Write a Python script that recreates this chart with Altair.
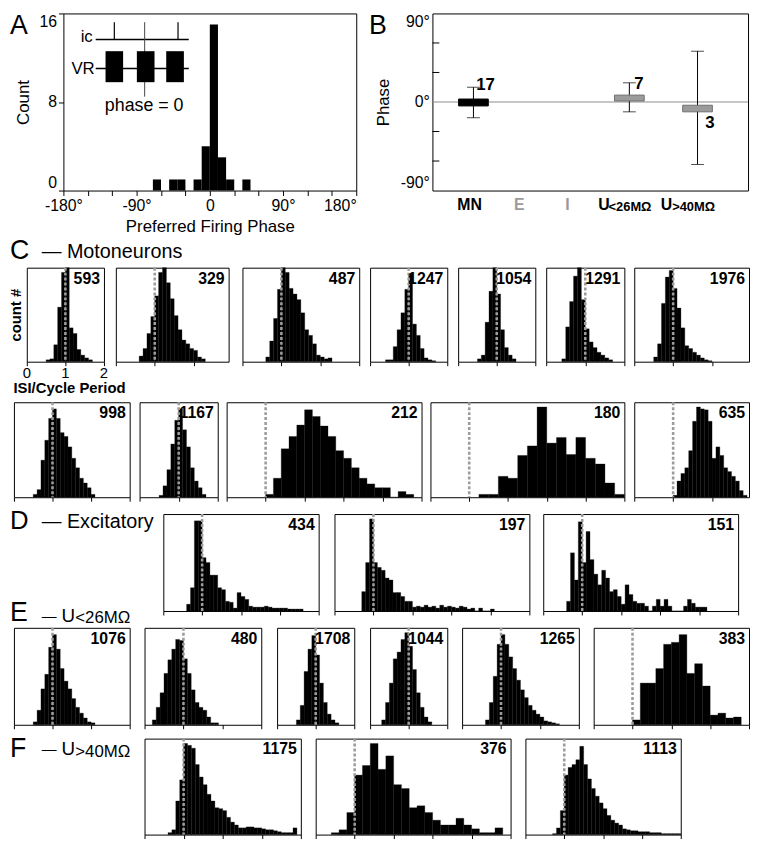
import altair as alt
import pandas as pd

FONT = "Liberation Sans"
FX, FY = 0.988, 0.978      # slight compression so the figure fits the page
PXU = 39.8                 # reference pixels per ISI/cycle unit

def X(v):
    return round((v - 3) * FX)

def Y(v):
    return round((v - 4) * FY)

ONE = pd.DataFrame({"k": [0]})

# ---------------- Panel A : preferred firing phase histogram ----------------
a_bin_start = [-70, -50, -40, -20, -10, 0, 10, 20, 40]
a_counts = [1, 1, 1, 1, 4, 15, 3, 1, 1]
A_BIN = 10

# inset schematic (in panel-A data units: degrees, counts)
ins_line_x = [-140.3, -140.3]
ins_line_x2 = [-25.9, -25.9]
ins_line_y = [13.64, 11.02]
ins_tick_x = [-117.4, -39.1]
ins_tick_y = [15.21, 15.21]
ins_tick_y2 = [13.64, 13.64]
ins_zero_x = [-80.1]
ins_zero_y = [15.21]
ins_zero_y2 = [8.48]
ins_box_x = [-128.2, -89.7, -53.6]
ins_box_x2 = [-106.6, -68.0, -31.9]
ins_box_y = [12.59, 12.59, 12.59]
ins_box_y2 = [9.79, 9.79, 9.79]
ins_lab = ["ic", "VR"]
ins_lab_x = [-143.9, -141.5]
ins_lab_y = [13.46, 10.5]
ins_phase_lab = ["phase = 0"]
ins_phase_x = [-80.7]
ins_phase_y = [7.17]

# ---------------- Panel B : mean phase per class ----------------
b_x = [0.118, 0.628, 0.851]
b_box_lo = [-4, 1, -10]
b_box_hi = [3, 7, -3.3]
b_err_lo = [-16, -10, -63.5]
b_err_hi = [15, 19.5, 51.6]
b_fill = ["black", "#9b9b9b", "#9b9b9b"]
b_stroke = ["black", "#6e6e6e", "#6e6e6e"]
b_n = ["17", "7", "3"]
b_n_x = [0.127, 0.644, 0.876]
b_n_y = [17.4, 17.9, -20.9]
b_minor = [-60, -30, 30, 60]
b_cat = ["MN", "E", "I", "U", "U"]
b_cat_x = [0.065, 0.251, 0.418, 0.526, 0.731]
b_cat_color = ["black", "#9a9a9a", "#9a9a9a", "black", "black"]
b_sub = ["<26MΩ", ">40MΩ"]
b_sub_x = [0.560, 0.768]

# ISI axis tick labels (first motoneuron panel only)
isi_tick_vals = [0, 1, 2]
isi_tick_text = ["0", "1", "2"]

# ---------------- ISI histograms (heights in % of panel height) ----------------
mn593 = dict(n="593", start=0.5, bw=0.1, h=[2, 3, 18, 58, 95, 100, 36, 30, 13, 7, 4, 2])
mn329 = dict(n="329", start=0.6, bw=0.1, h=[6, 14, 30, 48, 70, 95, 100, 84, 67, 49, 34, 23, 19, 14, 12, 5, 3])
mn487 = dict(n="487", start=0.6, bw=0.1, h=[5, 22, 46, 77, 100, 95, 78, 72, 66, 52, 34, 28, 19, 7, 5, 3, 4])
mn1247 = dict(n="1247", start=0.4, bw=0.1, h=[2, 2, 16, 34, 52, 77, 93, 40, 28, 14, 4, 2, 1])
mn1054 = dict(n="1054", start=0.5, bw=0.1, h=[3, 7, 42, 75, 100, 72, 34, 15, 7, 3])
mn1291 = dict(n="1291", start=0.4, bw=0.1, h=[3, 37, 64, 91, 100, 66, 35, 21, 15, 10, 7, 4, 2])
mn1976 = dict(n="1976", start=0.5, bw=0.1, h=[5, 19, 62, 90, 97, 78, 57, 36, 17, 14, 10, 7, 4, 2, 1])

mn998 = dict(n="998", start=0.5, bw=0.1, h=[3, 8, 39, 60, 83, 93, 83, 68, 64, 53, 41, 31, 20, 15, 10, 3])
mn1167 = dict(n="1167", start=0.5, bw=0.1, h=[2, 12, 29, 56, 81, 93, 71, 53, 31, 17, 10, 3])
mn212 = dict(n="212", start=1.0, bw=0.2, h=[3, 20, 51, 64, 76, 92, 85, 75, 64, 49, 41, 31, 20, 14, 10, 10, 0, 6, 3])
mn180 = dict(n="180", start=1.25, bw=0.25, h=[3, 3, 22, 20, 44, 54, 95, 57, 63, 45, 63, 41, 35, 15, 3])
mn635 = dict(n="635", start=1.0, bw=0.1, h=[2, 17, 25, 31, 49, 80, 95, 93, 92, 80, 41, 53, 44, 31, 27, 22, 17, 7, 2])

ex434 = dict(n="434", start=0.6, bw=0.1, h=[7, 24, 93, 93, 55, 50, 37, 37, 24, 22, 10, 9, 3, 19, 15, 12, 5, 4, 4, 4, 5, 4, 3, 3, 3, 3, 2, 2, 2, 2])
ex197 = dict(n="197", start=0.7, bw=0.1, h=[20, 50, 95, 50, 45, 42, 34, 32, 19, 19, 15, 10, 10, 4, 5, 4, 6, 4, 5, 3, 6, 4, 5, 4, 3, 5, 4, 2, 3, 0, 3, 0, 0, 2])
ex151 = dict(n="151", start=0.6, bw=0.1, h=[10, 60, 32, 92, 50, 82, 53, 38, 27, 42, 34, 20, 22, 15, 7, 27, 17, 10, 8, 8, 5, 0, 5, 12, 5, 12, 5, 0, 0, 0, 5, 12, 8, 4, 4, 4])

u1076 = dict(n="1076", start=0.5, bw=0.1, h=[3, 15, 37, 52, 80, 93, 78, 58, 45, 37, 27, 18, 12, 7, 3, 2])
u480 = dict(n="480", start=0.2, bw=0.1, h=[5, 18, 33, 53, 67, 78, 88, 87, 68, 53, 36, 23, 18, 15, 8, 2, 2])
u1708 = dict(n="1708", start=0.5, bw=0.1, h=[5, 20, 55, 78, 92, 72, 43, 23, 11, 5, 2])
u1044 = dict(n="1044", start=0.3, bw=0.1, h=[5, 23, 43, 68, 75, 88, 95, 81, 57, 33, 18, 8, 3])
u1265 = dict(n="1265", start=0.6, bw=0.1, h=[5, 23, 50, 83, 93, 83, 70, 58, 46, 36, 28, 20, 15, 11, 8, 4, 3, 2, 1])
u383 = dict(n="383", start=1.0, bw=0.2, h=[5, 43, 43, 58, 83, 85, 93, 53, 63, 40, 10, 12, 7, 8])

v1175 = dict(n="1175", start=0.6, bw=0.1, h=[2, 5, 35, 57, 95, 93, 90, 73, 60, 52, 42, 35, 28, 27, 25, 18, 13, 10, 7, 7, 8, 8, 7, 7, 6, 5, 5, 4, 3, 2, 2, 2, 7])
v376 = dict(n="376", start=0.4, bw=0.2, h=[2, 5, 23, 62, 72, 95, 68, 82, 52, 48, 28, 30, 23, 15, 10, 10, 17, 10, 6, 2, 2, 7])
v1113 = dict(n="1113", start=0.7, bw=0.1, h=[1, 7, 25, 62, 70, 73, 78, 92, 73, 58, 48, 40, 33, 27, 20, 15, 12, 10, 6, 5, 4, 4, 3, 3, 3, 2, 2, 2, 1, 1, 1, 1, 1])

# ---------------- layout (reference pixel geometry) ----------------
row_c1 = [(mn593, 17, 2), (mn329, 108, 2.9), (mn487, 238, 3), (mn1247, 368, 2),
          (mn1054, 458, 2), (mn1291, 549, 2), (mn1976, 639, 2.95)]
row_c2 = [(mn998, 3, 3), (mn1167, 133, 2), (mn212, 222, 5), (mn180, 430, 5), (mn635, 639, 2.95)]
row_d = [(ex434, 157, 4), (ex197, 332, 5), (ex151, 546, 5)]
row_e = [(u1076, 3, 3), (u480, 138, 3), (u1708, 273, 2), (u1044, 368, 2), (u1265, 463, 3), (u383, 597, 4)]
row_f = [(v1175, 138, 4), (v376, 313, 5), (v1113, 527, 4)]

FRAME = alt.ViewBackground(stroke="black", strokeWidth=1)


def txt(x, y, s, size, weight="normal", color="black", align="left", baseline="alphabetic"):
    return alt.Chart(ONE).mark_text(text=s, fontSize=size, fontWeight=weight, color=color,
                                    align=align, baseline=baseline).encode(
        x=alt.value(x), y=alt.value(y))


def text_top(base, size):      # vega text bounds (alphabetic baseline)
    return base - round(0.8 * size)


def text_bottom(base, size):
    return base - round(0.8 * size) + size


def blank(w, h, extra=()):
    base = alt.Chart(ONE).mark_rect(opacity=0).encode(
        x=alt.value(0), x2=alt.value(1), y=alt.value(0), y2=alt.value(1))
    return alt.layer(base, *extra).properties(width=w, height=h)


def hist_cell(spec, xmax, w, h, first=False):
    hs = spec["h"]
    xs = [round(spec["start"] + i * spec["bw"], 4) for i in range(len(hs))]
    df = pd.DataFrame({"x": xs, "x2": [round(v + spec["bw"], 4) for v in xs],
                       "y0": [0] * len(hs), "h": hs})
    xsc = alt.Scale(domain=[0, xmax], nice=False, zero=False)
    ysc = alt.Scale(domain=[0, 100], nice=False, zero=False)
    akw = dict(values=list(range(0, int(xmax) + 1)), tickSize=4, tickColor="black", tickWidth=1,
               domain=False, grid=False, labels=False)
    if first:
        akw.update(title="ISI/Cycle Period", titleFontSize=15, titleFontWeight="bold",
                   titleAlign="left", titleAnchor="start", titleBaseline="top",
                   titleX=X(3) - X(17), titleY=Y(381) - Y(362))
        yax = alt.Axis(ticks=False, labels=False, domain=False, grid=False, title="count #",
                       titleFontSize=15, titleFontWeight="bold", titlePadding=3)
    else:
        akw.update(title=None)
        yax = None
    xax = alt.Axis(**akw)
    bars = alt.Chart(df).mark_rect(color="black", stroke="black", strokeWidth=0.3).encode(
        x=alt.X("x:Q", scale=xsc, axis=xax),
        x2="x2:Q",
        y=alt.Y("y0:Q", scale=ysc, axis=yax),
        y2="h:Q")
    dash = alt.Chart(pd.DataFrame({"x": [1]})).mark_rule(
        color="#9c9c9c", strokeDash=[3, 2], strokeWidth=2.6).encode(
        x=alt.X("x:Q", axis=xax))
    lab = txt(w - 4, 3, spec["n"], 16, "bold", align="right", baseline="top")
    layers = [bars, dash, lab]
    if first:
        ticks_txt = alt.Chart(pd.DataFrame({"x": isi_tick_vals, "t": isi_tick_text})).mark_text(
            align="center", baseline="top", fontSize=15).encode(
            x=alt.X("x:Q", axis=xax), y=alt.value(h + 4), text="t:N")
        layers.append(ticks_txt)
    return alt.layer(*layers).properties(width=w, height=h, view=FRAME)


def panel_a(w, h):
    xsc = alt.Scale(domain=[-180, 180], nice=False, zero=False)
    ysc = alt.Scale(domain=[0, 16], nice=False, zero=False)
    df = pd.DataFrame({"x": a_bin_start, "x2": [v + A_BIN for v in a_bin_start],
                       "y": [0] * len(a_counts), "c": a_counts})
    xax = alt.Axis(values=list(range(-180, 181, 30)),
                   labelExpr="datum.value % 90 == 0 ? (datum.value == 0 ? '0' : datum.value + '°') : ''",
                   labelAlign={"condition": {"test": "datum.value == 180", "value": "right"}, "value": "center"},
                   labelOverlap=False,
                   tickSize=5, tickColor="black", domain=False, grid=False, labelFontSize=16,
                   labelPadding=2, labelColor="black", title="Preferred Firing Phase",
                   titleFontSize=17, titleFontWeight="normal", titlePadding=5)
    yax = alt.Axis(values=[0, 8, 16], tickSize=5, tickColor="black", domain=False, grid=False,
                   labelFlush=True, labelFontSize=16, labelPadding=2, labelColor="black",
                   title="Count", titleFontSize=17, titleFontWeight="normal", titlePadding=6)
    XE = lambda: alt.X("x:Q", scale=xsc, axis=xax)
    YE = lambda: alt.Y("y:Q", scale=ysc, axis=yax)
    bars = alt.Chart(df).mark_rect(color="black").encode(x=XE(), x2="x2:Q", y=YE(), y2="c:Q")
    hl = alt.Chart(pd.DataFrame({"x": ins_line_x, "x2": ins_line_x2, "y": ins_line_y})).mark_rule(
        color="black", strokeWidth=1.5).encode(x=XE(), x2="x2:Q", y=YE())
    tk = alt.Chart(pd.DataFrame({"x": ins_tick_x, "y": ins_tick_y, "y2": ins_tick_y2})).mark_rule(
        color="black", strokeWidth=1.2).encode(x=XE(), y=YE(), y2="y2:Q")
    zl = alt.Chart(pd.DataFrame({"x": ins_zero_x, "y": ins_zero_y, "y2": ins_zero_y2})).mark_rule(
        color="#444", strokeWidth=1).encode(x=XE(), y=YE(), y2="y2:Q")
    bx = alt.Chart(pd.DataFrame({"x": ins_box_x, "x2": ins_box_x2, "y": ins_box_y, "y2": ins_box_y2})).mark_rect(
        color="black").encode(x=XE(), x2="x2:Q", y=YE(), y2="y2:Q")
    lb = alt.Chart(pd.DataFrame({"t": ins_lab, "x": ins_lab_x, "y": ins_lab_y})).mark_text(
        align="right", baseline="alphabetic", fontSize=17).encode(x=XE(), y=YE(), text="t:N")
    pl = alt.Chart(pd.DataFrame({"t": ins_phase_lab, "x": ins_phase_x, "y": ins_phase_y})).mark_text(
        align="center", baseline="alphabetic", fontSize=18).encode(x=XE(), y=YE(), text="t:N")
    return alt.layer(bars, hl, tk, zl, bx, lb, pl).properties(width=w, height=h, view=FRAME)


def panel_b(w, h):
    ysc = alt.Scale(domain=[-90, 90], nice=False, zero=False)
    xsc = alt.Scale(domain=[0, 1], nice=False, zero=False)
    df = pd.DataFrame(dict(x=b_x, y=b_box_lo, hi=b_box_hi, elo=b_err_lo, ehi=b_err_hi,
                           fill=b_fill, stroke=b_stroke))
    yax = alt.Axis(values=[-90, 0, 90], labelExpr="datum.value + '°'", ticks=False, domain=False,
                   grid=False, labelFontSize=16, labelPadding=3, labelFlush=True, labelColor="black",
                   title="Phase", titleFontSize=17, titleFontWeight="normal", titlePadding=8)
    XE = lambda: alt.X("x:Q", scale=xsc, axis=None)
    YE = lambda f="y": alt.Y(f + ":Q", scale=ysc, axis=yax)
    zero = alt.Chart(pd.DataFrame({"y": [0]})).mark_rule(color="#8c8c8c", strokeWidth=1).encode(y=YE())
    minor = alt.Chart(pd.DataFrame({"y": b_minor})).mark_rule(color="black", strokeWidth=1).encode(
        y=YE(), x=alt.value(0), x2=alt.value(7))
    err = alt.Chart(df).mark_rule(color="black", strokeWidth=1).encode(
        x=XE(), y=YE("elo"), y2="ehi:Q")
    caps_df = pd.DataFrame({"x": b_x + b_x, "y": b_err_lo + b_err_hi})
    caps = alt.Chart(caps_df).mark_tick(orient="horizontal", size=13, thickness=1, color="black").encode(
        x=XE(), y=YE())
    boxes = alt.Chart(df).mark_bar(size=30, orient="vertical", strokeWidth=1).encode(
        x=XE(), y=YE(), y2="hi:Q",
        color=alt.Color("fill:N", scale=None), stroke=alt.Stroke("stroke:N", scale=None))
    nl = alt.Chart(pd.DataFrame({"t": b_n, "x": b_n_x, "y": b_n_y})).mark_text(
        align="left", baseline="middle", fontSize=17, fontWeight="bold").encode(
        x=XE(), y=YE(), text="t:N")
    cat = alt.Chart(pd.DataFrame({"t": b_cat, "x": b_cat_x, "c": b_cat_color})).mark_text(
        align="left", baseline="alphabetic", fontSize=16, fontWeight="bold").encode(
        x=XE(), y=alt.value(Y(207) - Y(4)), text="t:N",
        color=alt.Color("c:N", scale=None))
    sub = alt.Chart(pd.DataFrame({"t": b_sub, "x": b_sub_x})).mark_text(
        align="left", baseline="alphabetic", fontSize=13, fontWeight="bold").encode(
        x=XE(), y=alt.value(Y(209) - Y(4)), text="t:N")
    return alt.layer(zero, minor, err, caps, boxes, nl, cat, sub).properties(
        width=w, height=h, view=FRAME)


def build_row(items, top, bot, push, heads):
    """items: (left_ref, right_ref, builder(w, h)); the leading blank carries the
    row's header texts and its height pushes the next row down."""
    h = Y(bot) - Y(top)
    cells = []
    first_left = X(items[0][0])
    lead_w = max(first_left, 1)
    cells.append(blank(lead_w, push, heads))
    cursor = lead_w
    for left, right, build in items:
        gap = X(left) - cursor
        if gap > 0:
            cells.append(blank(gap, 1))
        w = X(right) - max(X(left), cursor)
        cells.append(build(w, h))
        cursor = cursor + max(gap, 0) + w
    return alt.hconcat(*cells, spacing=0, bounds="flush")


def hist_items(row, first_row=False):
    out = []
    for i, (spec, left, xmax) in enumerate(row):
        right = left + xmax * PXU
        flag = first_row and i == 0
        out.append((left, right, (lambda w, h, s=spec, xm=xmax, f=flag: hist_cell(s, xm, w, h, f))))
    return out


T = [Y(4), Y(265), Y(402), Y(517), Y(633), Y(747)]

# headers: (ref x, baseline in px relative to the row origin, text, size)
h0 = [(0, Y(25) - T[0], "A", 27), (367, Y(25) - T[0], "B", 27),
      (0, Y(258) - T[0], "C", 27), (32, Y(257) - T[0], "— Motoneurons", 20)]
h3 = [(0, Y(533) - T[3], "D", 26), (32, Y(532) - T[3], "— Excitatory", 20)]
h5 = [(0, Y(767) - T[5], "F", 27), (32, Y(764) - T[5], "—", 15), (53, Y(765) - T[5], "U", 19),
      (67, Y(767) - T[5], ">40MΩ", 17)]
oh3 = max(0, -min(text_top(b, s) for _, b, _, s in h3))
oh5 = max(0, -min(text_top(b, s) for _, b, _, s in h5))
P = [T[1] - T[0], T[2] - T[1], T[3] - T[2] - oh3, T[4] - T[3], T[5] - T[4] - oh5, Y(847) - T[5]]
# E header sits at the bottom of the D row (must not extend below it)
e_raw = [(0, Y(632) - T[3], "E", 27), (32, Y(628) - T[3], "—", 15), (53, Y(630) - T[3], "U", 19),
         (67, Y(631) - T[3], "<26MΩ", 17)]
h3e = [(x, min(b, P[3] - (text_bottom(b, s) - b)), t, s) for x, b, t, s in e_raw]


def mk(hs):
    return [txt(X(x), b, t, s) for x, b, t, s in hs]


rows = [
    build_row([(55, 354, panel_a), (432, 755, panel_b)], 4, 187, P[0], mk(h0)),
    build_row(hist_items(row_c1, True), 265, 362, P[1], []),
    build_row(hist_items(row_c2), 402, 500, P[2], []),
    build_row(hist_items(row_d), 517, 617, P[3], mk(h3) + mk(h3e)),
    build_row(hist_items(row_e), 633, 733, P[4], []),
    build_row(hist_items(row_f), 747, 847, P[5], mk(h5)),
]

chart = alt.vconcat(*rows, spacing=0).properties(
    padding=0, background="white"
).configure(font=FONT).configure_view(stroke=None)

chart.save("out.html", embed_options={"renderer": "svg", "actions": False})
